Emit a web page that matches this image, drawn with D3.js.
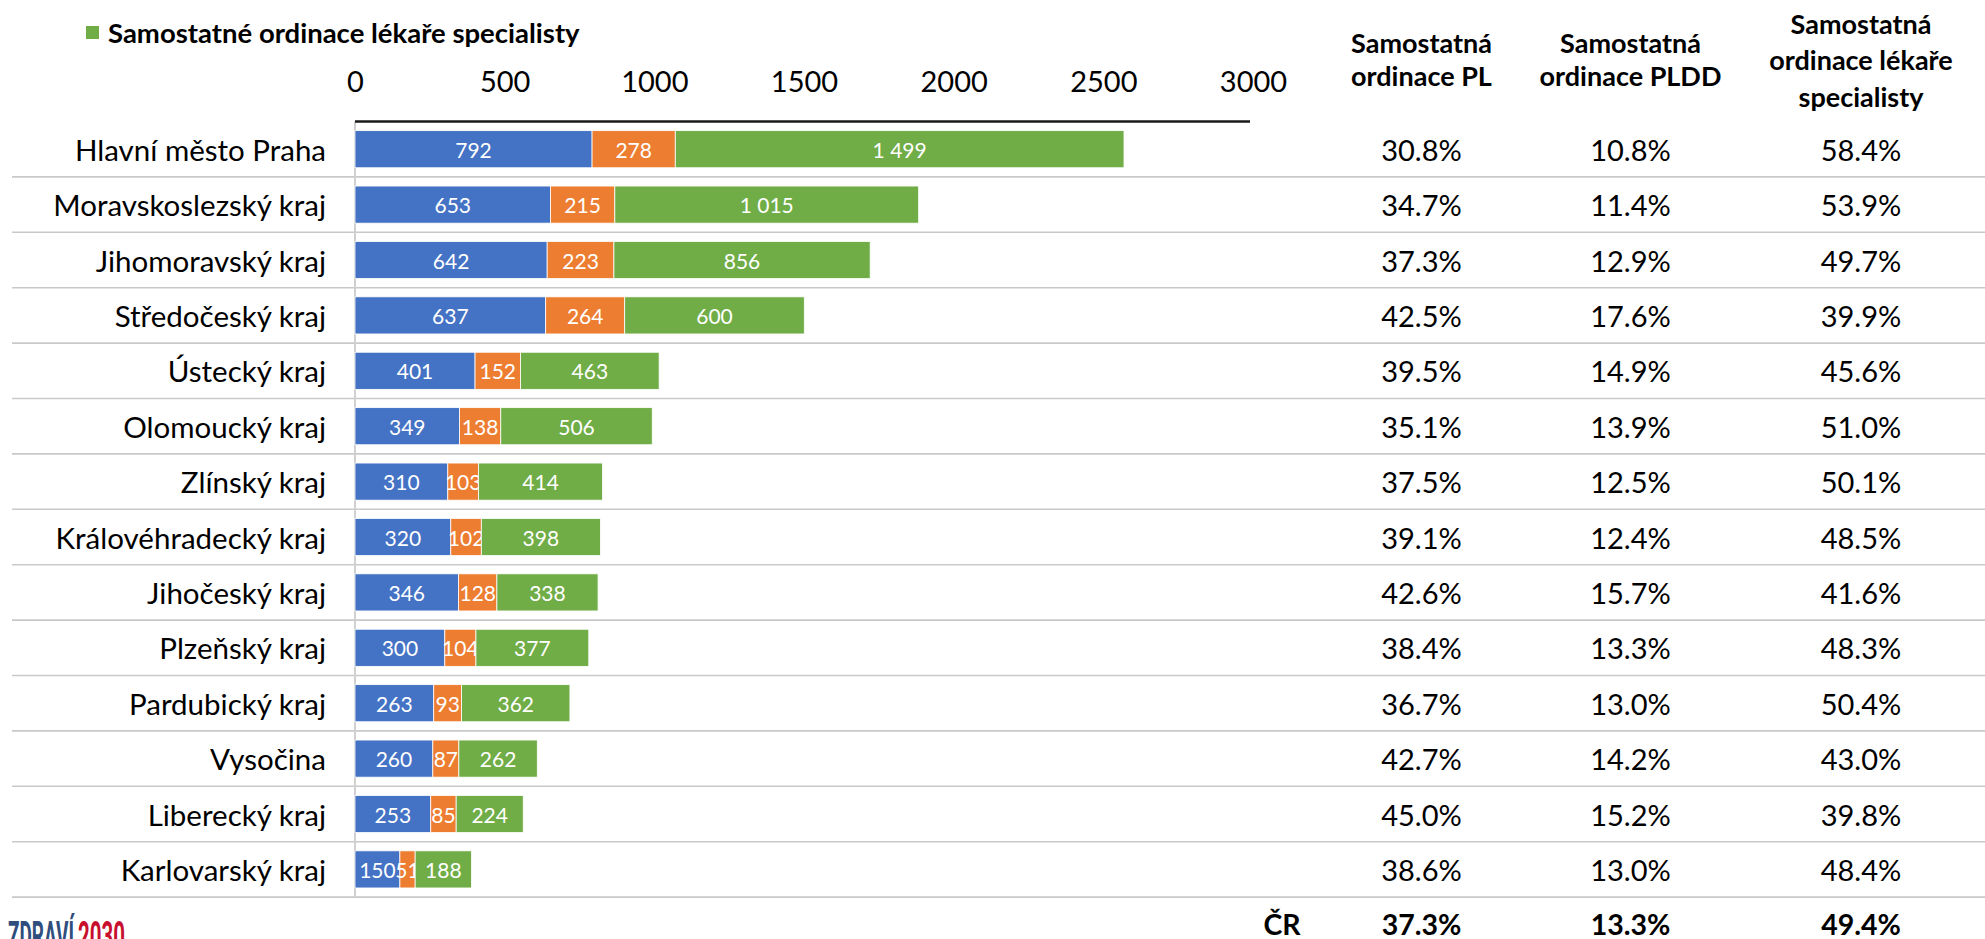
<!DOCTYPE html>
<html>
<head>
<meta charset="utf-8">
<script src="https://cdn.jsdelivr.net/npm/d3@7"></script>
<style>
  html, body { margin: 0; padding: 0; background: #ffffff; }
  svg { display: block; font-family: Lato, "Open Sans", sans-serif; }
</style>
</head>
<body>
<svg id="chart" width="1985" height="939"></svg>
<script>
// ---------------- DATA ----------------
const categories = [
  "Hlavní město Praha", "Moravskoslezský kraj", "Jihomoravský kraj", "Středočeský kraj",
  "Ústecký kraj", "Olomoucký kraj", "Zlínský kraj", "Královéhradecký kraj",
  "Jihočeský kraj", "Plzeňský kraj", "Pardubický kraj", "Vysočina",
  "Liberecký kraj", "Karlovarský kraj"
];
const seriesNames = ["Samostatná ordinace PL", "Samostatná ordinace PLDD", "Samostatné ordinace lékaře specialisty"];
const valuesPL   = [792, 653, 642, 637, 401, 349, 310, 320, 346, 300, 263, 260, 253, 150];
const valuesPLDD = [278, 215, 223, 264, 152, 138, 103, 102, 128, 104, 93, 87, 85, 51];
const valuesSpec = [1499, 1015, 856, 600, 463, 506, 414, 398, 338, 377, 362, 262, 224, 188];
const xTicks = [0, 500, 1000, 1500, 2000, 2500, 3000];

const tableHeaders = [
  ["Samostatná", "ordinace PL"],
  ["Samostatná", "ordinace PLDD"],
  ["Samostatná", "ordinace lékaře", "specialisty"]
];
const sharePL   = [30.8, 34.7, 37.3, 42.5, 39.5, 35.1, 37.5, 39.1, 42.6, 38.4, 36.7, 42.7, 45.0, 38.6];
const sharePLDD = [10.8, 11.4, 12.9, 17.6, 14.9, 13.9, 12.5, 12.4, 15.7, 13.3, 13.0, 14.2, 15.2, 13.0];
const shareSpec = [58.4, 53.9, 49.7, 39.9, 45.6, 51.0, 50.1, 48.5, 41.6, 48.3, 50.4, 43.0, 39.8, 48.4];
const totalLabel = "ČR";
const totalShares = [37.3, 13.3, 49.4];
const colors = ["#4472C4", "#ED7D31", "#70AD47"];

// ---------------- BUILD ----------------
const svg = d3.select("#chart");
const rows = categories.map((c, i) => ({ cat: c, pl: valuesPL[i], pldd: valuesPLDD[i], spec: valuesSpec[i] }));
const keys = ["pl", "pldd", "spec"];
const stacked = d3.stack().keys(keys)(rows);

const topY = 121.5, step = 55.4;
const y = d3.scaleBand().domain(categories).range([topY, topY + step * categories.length])
  .paddingInner(0.33).paddingOuter(0.165);
const x = d3.scaleLinear().domain([0, 3000]).range([355, 1253]);

const locale = d3.formatLocale({ decimal: ",", thousands: "\u00a0", grouping: [3], currency: ["", ""] });
const fmt = locale.format(",d");
const pct = d3.format(".1f");

// separators
const seps = d3.range(1, categories.length + 1).map(i => topY + i * step);
svg.append("g").selectAll("line").data(seps).join("line")
  .attr("x1", 12).attr("x2", 1985)
  .attr("y1", d => d).attr("y2", d => d)
  .attr("stroke", "#c9c9c9").attr("stroke-width", 1.6);

// vertical baseline
svg.append("line")
  .attr("x1", x(0)).attr("x2", x(0))
  .attr("y1", topY).attr("y2", topY + step * categories.length)
  .attr("stroke", "#d0d0d0").attr("stroke-width", 2);

// bars
const layers = svg.append("g").selectAll("g").data(stacked).join("g")
  .attr("fill", (d, i) => colors[i]);
layers.selectAll("rect").data(d => d).join("rect")
  .attr("x", d => x(d[0]))
  .attr("y", d => y(d.data.cat))
  .attr("width", d => x(d[1]) - x(d[0]))
  .attr("height", y.bandwidth())
  .attr("stroke", "#ffffff").attr("stroke-width", 0.8);

// bar labels
layers.selectAll("text").data(d => d.map(v => ({ v, key: d.key }))).join("text")
  .attr("x", d => (x(d.v[0]) + x(d.v[1])) / 2)
  .attr("y", d => y(d.v.data.cat) + y.bandwidth() / 2)
  .attr("text-anchor", "middle")
  .attr("dominant-baseline", "central")
  .attr("fill", "#ffffff")
  .attr("font-size", 21)
  .text(d => fmt(d.v.data[d.key]));

// x axis on top
const xAxis = svg.append("g").attr("transform", `translate(0,${topY})`)
  .call(d3.axisTop(x).tickValues(xTicks).tickSize(0).tickPadding(30).tickFormat(d3.format("d")));
xAxis.select(".domain").attr("stroke", "#1a1a1a").attr("stroke-width", 2.5)
  .attr("d", `M${x(0)},0H1250`);
xAxis.selectAll("text").attr("font-size", 29).attr("fill", "#000").attr("font-family", "Lato");

// category labels
svg.append("g").selectAll("text").data(categories).join("text")
  .attr("x", 326)
  .attr("y", d => y(d) + y.bandwidth() / 2)
  .attr("text-anchor", "end")
  .attr("dominant-baseline", "central")
  .attr("font-size", 29.5)
  .attr("fill", "#000")
  .text(d => d);

// legend (visible part)
const lg = svg.append("g");
lg.append("rect").attr("x", 86).attr("y", 26).attr("width", 13).attr("height", 13).attr("fill", colors[2]);
lg.append("text").attr("x", 108).attr("y", 32.5).attr("dominant-baseline", "central")
  .attr("font-size", 27.5).attr("font-weight", 700).attr("fill", "#000")
  .text(seriesNames[2]);

// table
const colX = [1421.5, 1630.5, 1861];
const shares = [sharePL, sharePLDD, shareSpec];
const hdr = svg.append("g");
tableHeaders.forEach((lines, c) => {
  const lineH = lines.length === 3 ? 36.5 : 32.5;
  const mid = lines.length === 3 ? 59.5 : 59.2;
  lines.forEach((t, k) => {
    hdr.append("text")
      .attr("x", colX[c])
      .attr("y", mid + (k - (lines.length - 1) / 2) * lineH)
      .attr("text-anchor", "middle").attr("dominant-baseline", "central")
      .attr("font-size", 27).attr("font-weight", 700).attr("fill", "#000")
      .text(t);
  });
});
shares.forEach((arr, c) => {
  svg.append("g").selectAll("text").data(arr).join("text")
    .attr("x", colX[c])
    .attr("y", (d, i) => y(categories[i]) + y.bandwidth() / 2)
    .attr("text-anchor", "middle").attr("dominant-baseline", "central")
    .attr("font-size", 29).attr("fill", "#000")
    .text(d => pct(d) + "%");
});
const totY = 924;
svg.append("text").attr("x", 1282).attr("y", totY)
  .attr("text-anchor", "middle").attr("dominant-baseline", "central")
  .attr("font-size", 28.5).attr("font-weight", 700).text(totalLabel);
svg.append("g").selectAll("text").data(totalShares).join("text")
  .attr("x", (d, i) => colX[i]).attr("y", totY)
  .attr("text-anchor", "middle").attr("dominant-baseline", "central")
  .attr("font-size", 28.5).attr("font-weight", 700)
  .text(d => pct(d) + "%");

// logo (cut off at the bottom edge)
const logoG = svg.append("g").attr("font-size", 40).attr("font-weight", 700)
  .attr("font-family", "Roboto, Lato, sans-serif");
logoG.append("text").attr("x", 8).attr("y", 950).attr("fill", "#2f4e7e").text("ZDRAVÍ")
  .attr("textLength", 66).attr("lengthAdjust", "spacingAndGlyphs");
logoG.append("text").attr("x", 78).attr("y", 950).attr("fill", "#c8102e").text("2030")
  .attr("textLength", 47).attr("lengthAdjust", "spacingAndGlyphs");
</script>
</body>
</html>
